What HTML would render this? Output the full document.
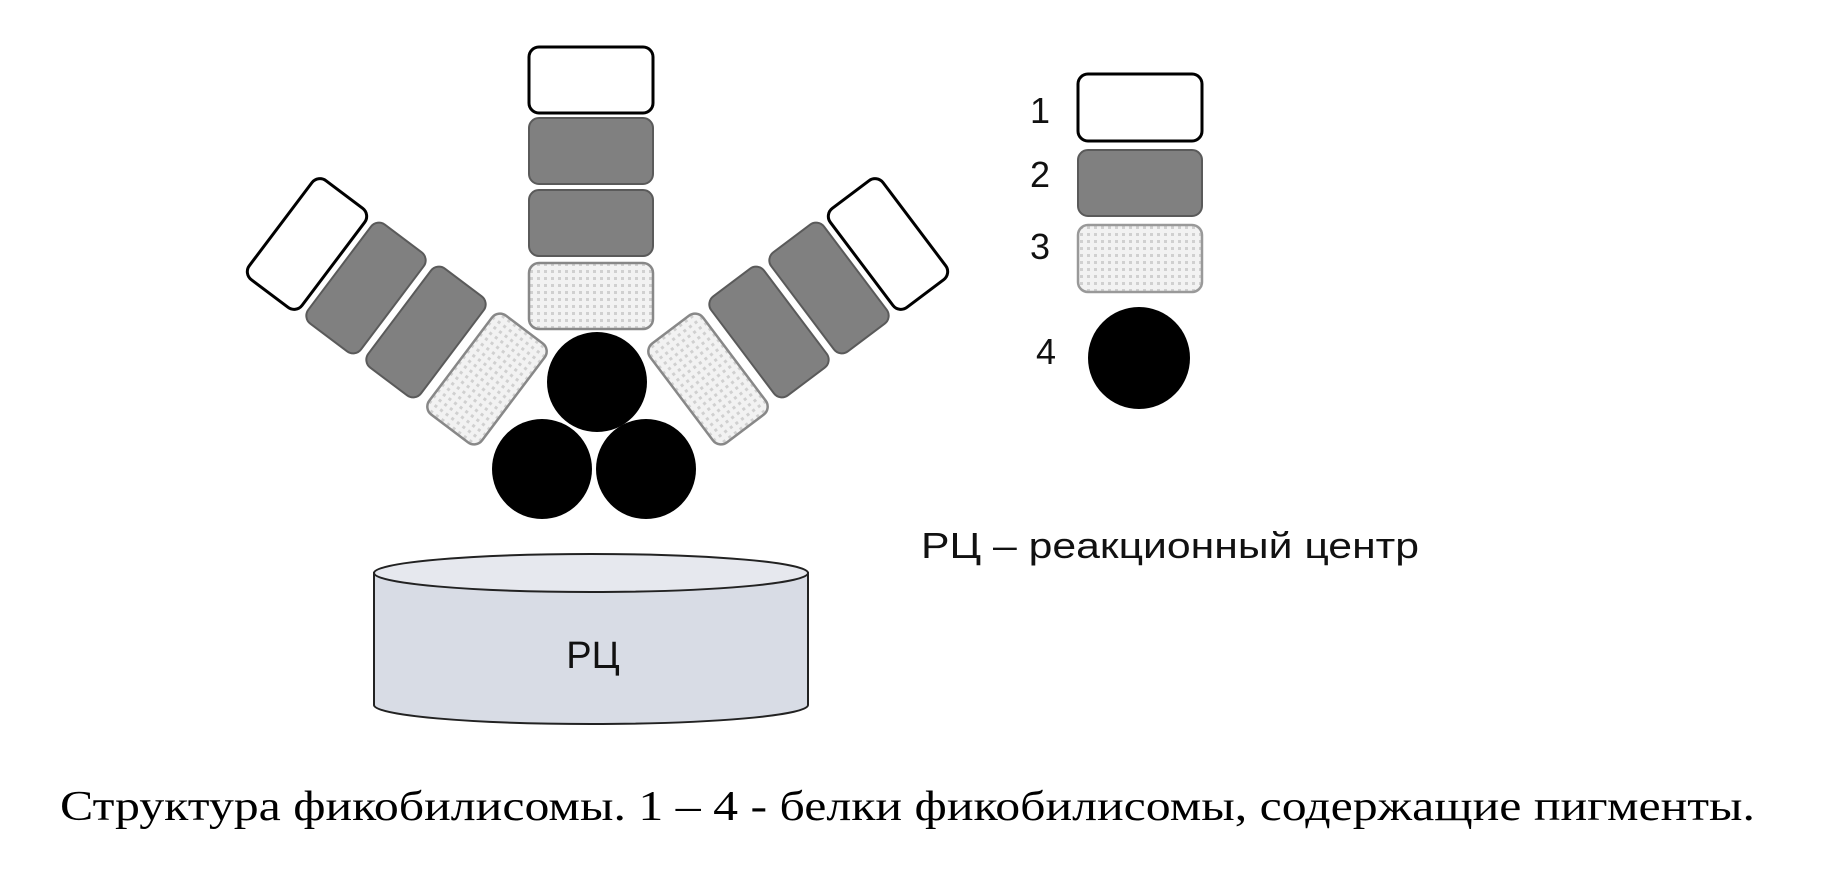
<!DOCTYPE html>
<html><head><meta charset="utf-8"><style>
html,body{margin:0;padding:0;background:#fff;}
svg{display:block}
</style></head><body>
<svg width="1822" height="876" viewBox="0 0 1822 876" xmlns="http://www.w3.org/2000/svg">
<defs>
<pattern id="dots" width="7" height="7" patternUnits="userSpaceOnUse">
<rect width="7" height="7" fill="#f2f2f2"/>
<rect x="2" y="2" width="3" height="3" fill="#d0d0d0"/>
</pattern>
<g id="w"><rect x="-62" y="-33" width="124" height="66" rx="10" fill="#fff" stroke="#000" stroke-width="3"/></g>
<g id="g"><rect x="-62" y="-33" width="124" height="66" rx="10" fill="#808080" stroke="#5a5a5a" stroke-width="2"/></g>
<g id="d"><rect x="-62" y="-33" width="124" height="66" rx="10" fill="url(#dots)" stroke="#888" stroke-width="2.5"/></g>
</defs>
<!-- vertical stack -->
<use href="#w" x="591" y="80"/>
<use href="#g" x="591" y="151"/>
<use href="#g" x="591" y="223"/>
<use href="#d" x="591" y="296"/>
<!-- left arm -->
<use href="#w" transform="translate(307,244) rotate(-53)"/>
<use href="#g" transform="translate(366,288) rotate(-53)"/>
<use href="#g" transform="translate(426,332) rotate(-53)"/>
<use href="#d" transform="translate(487,379) rotate(-53)"/>
<!-- right arm -->
<use href="#d" transform="translate(708,379) rotate(53)"/>
<use href="#g" transform="translate(769,332) rotate(53)"/>
<use href="#g" transform="translate(829,288) rotate(53)"/>
<use href="#w" transform="translate(888,244) rotate(53)"/>
<!-- circles -->
<circle cx="597" cy="382" r="50" fill="#000"/>
<circle cx="542" cy="469" r="50" fill="#000"/>
<circle cx="646" cy="469" r="50" fill="#000"/>
<!-- legend -->
<rect x="1078" y="74" width="124" height="67" rx="10" fill="#fff" stroke="#000" stroke-width="3"/>
<rect x="1078" y="150" width="124" height="66" rx="10" fill="#808080" stroke="#5a5a5a" stroke-width="2"/>
<rect x="1078" y="225" width="124" height="67" rx="10" fill="url(#dots)" stroke="#999" stroke-width="2.5"/>
<circle cx="1139" cy="358" r="51" fill="#000"/>
<g font-family="Liberation Sans, sans-serif" font-size="36" fill="#111">
<text x="1030" y="123">1</text>
<text x="1030" y="187">2</text>
<text x="1030" y="259">3</text>
<text x="1036" y="364">4</text>
<text x="921" y="558" textLength="498" lengthAdjust="spacingAndGlyphs">РЦ – реакционный центр</text>
</g>
<!-- cylinder -->
<path d="M374,573 L374,705 A217,19 0 0 0 808,705 L808,573 Z" fill="#d8dce5" stroke="#222" stroke-width="2"/>
<ellipse cx="591" cy="573" rx="217" ry="19" fill="#e6e8ee" stroke="#222" stroke-width="2"/>
<text x="593" y="668" font-family="Liberation Sans, sans-serif" font-size="38" text-anchor="middle" fill="#111">РЦ</text>
<text x="60" y="820" font-family="Liberation Serif, serif" font-size="42" fill="#000" textLength="1695" lengthAdjust="spacingAndGlyphs">Структура фикобилисомы. 1 – 4 - белки фикобилисомы, содержащие пигменты.</text>
</svg>
</body></html>
